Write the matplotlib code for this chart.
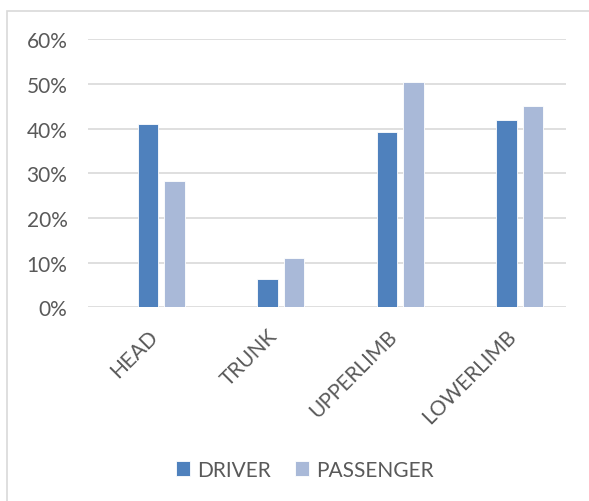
import matplotlib.pyplot as plt
import matplotlib.patches as mpatches
from matplotlib.ticker import PercentFormatter
import numpy as np

categories = ["HEAD", "TRUNK", "UPPERLIMB", "LOWERLIMB"]
driver = [0.41, 0.063, 0.392, 0.42]
passenger = [0.282, 0.11, 0.503, 0.45]

plt.rcParams['font.family'] = ['Lato', 'DejaVu Sans']
text_color = "#595959"

fig = plt.figure(figsize=(5.89, 5.02), dpi=100)
ax = fig.add_axes([0.150, 0.386, 0.811, 0.534])

x = np.arange(len(categories))
width = 0.172
step = 0.222
ax.bar(x, driver, width, color="#4f81bd", edgecolor="white", linewidth=0.6, label="DRIVER", zorder=3)
ax.bar(x + step, passenger, width, color="#a9b9d8", edgecolor="white", linewidth=0.6, label="PASSENGER", zorder=3)

ax.set_xlim(-0.5, 3.5)
ax.set_ylim(0, 0.6)
ax.set_yticks(np.arange(0, 0.61, 0.1))
ax.yaxis.set_major_formatter(PercentFormatter(1, decimals=0))
ax.grid(axis="y", color="#d9d9d9", linewidth=1.2, zorder=0)
for s in ax.spines.values():
    s.set_visible(False)

ax.set_xticks(x)
ax.set_xticklabels(categories, rotation=45, ha="right", va="top", rotation_mode="anchor")
ax.tick_params(axis="both", length=0, labelsize=15, labelcolor=text_color)
ax.tick_params(axis="y", pad=15)
ax.tick_params(axis="x", pad=13)

leg = fig.legend(loc="center", bbox_to_anchor=(0.518, 0.062), ncol=2, frameon=False,
                 fontsize=15, handlelength=0.68, handleheight=0.68,
                 handletextpad=0.34, columnspacing=1.15, labelcolor=text_color)

# chart area border
fig.patches.append(mpatches.Rectangle((7 / 589, -0.1), 1.2, 1.1 - 12 / 502, transform=fig.transFigure,
                                      fill=False, edgecolor="#d9d9d9", linewidth=1.2))

fig.savefig("out.png", dpi=100)
